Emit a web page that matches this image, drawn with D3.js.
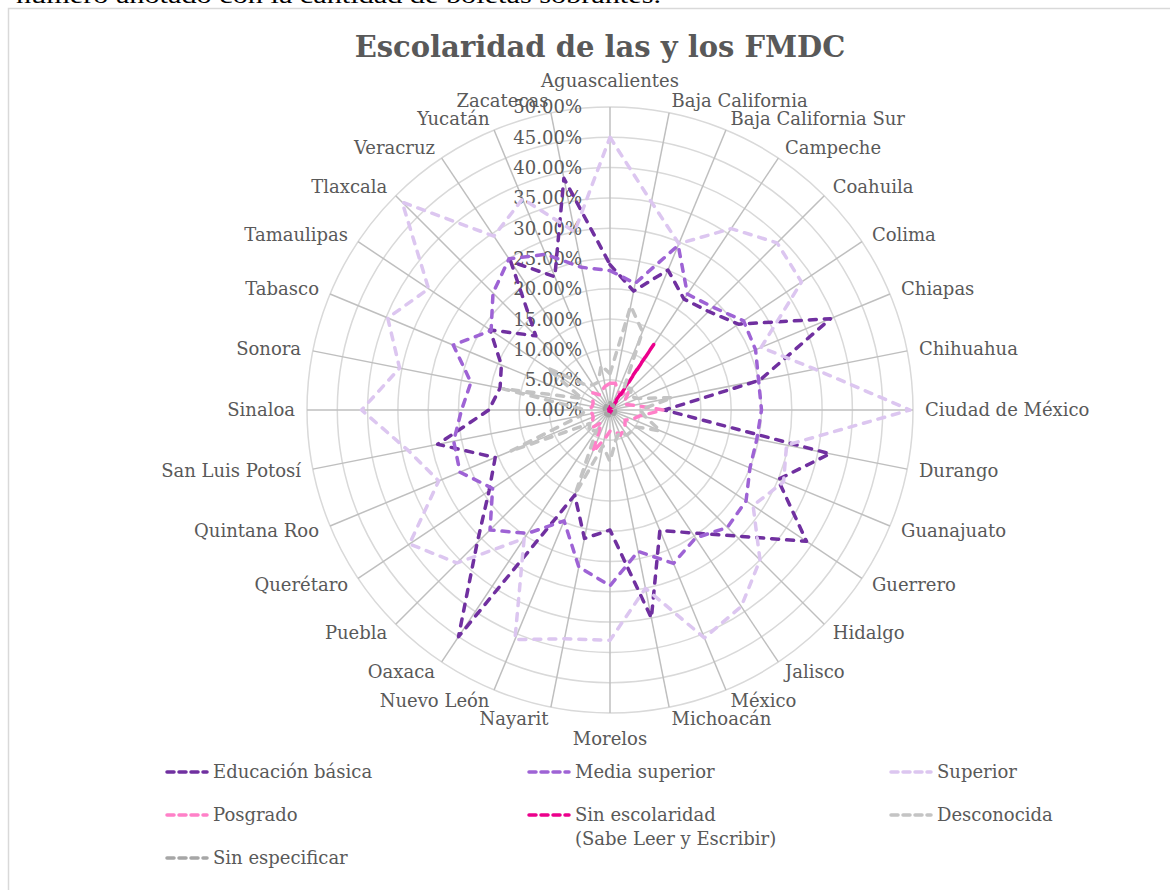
<!DOCTYPE html>
<html>
<head>
<meta charset="utf-8">
<script src="https://cdn.jsdelivr.net/npm/d3@7"></script>
<style>
  body { margin: 0; background: #fff; }
  svg { display: block; }
  text { font-family: "DejaVu Serif", Georgia, serif; fill: #595959; }
</style>
</head>
<body>
<div id="chart"></div>
<script>
// estados (ejes del radar)
const estados = ["Aguascalientes", "Baja California", "Baja California Sur", "Campeche", "Coahuila",
    "Colima", "Chiapas", "Chihuahua", "Ciudad de México", "Durango", "Guanajuato", "Guerrero",
    "Hidalgo", "Jalisco", "México", "Michoacán", "Morelos", "Nayarit", "Nuevo León", "Oaxaca",
    "Puebla", "Querétaro", "Quintana Roo", "San Luis Potosí", "Sinaloa", "Sonora", "Tabasco",
    "Tamaulipas", "Tlaxcala", "Veracruz", "Yucatán", "Zacatecas"];

// porcentajes por estado, mismo orden
const educacionBasica = [24, 20, 25, 22, 23, 25.5, 39.4, 25.2, 9, 37, 30, 39, 29.4, 24.4, 21.5, 35,
    19.8, 21.6, 15.2, 45, 31, 24, 20.5, 29, 20, 18.5, 19.4, 23.8, 17.3, 29.5, 23.8, 39];
const mediaSuperior = [23, 21.3, 29.4, 23, 24, 26.5, 26, 25, 25, 24.7, 25, 27, 27.4, 25.4, 27.4, 23.8,
    29, 26.4, 19.8, 24.5, 28, 23.3, 26.8, 26.3, 24.5, 23.4, 28, 23.6, 27.3, 30, 27.8, 24];
const superior = [45, 35, 29.7, 36, 39, 38, 27, 34.5, 49.5, 29.7, 31, 28.4, 35, 39, 40.7, 30,
    38, 38.5, 41, 25.5, 35.7, 39.8, 30.6, 34, 41, 35.4, 39.7, 36, 48.5, 34.5, 37.7, 30];
const posgrado = [4.4, 4.5, 3.5, 3, 4.5, 3, 2.5, 4, 8.8, 5, 4, 3, 3.5, 4, 4.5, 3.5,
    3.5, 5, 7.5, 2.5, 4, 3.5, 3, 3, 3.5, 3, 3, 3.5, 4, 3, 3.5, 4];
const sinEscolaridad = [0.5, 0.8, 0.3, 13, 0.3, 0.5, 0.4, 0.3, 0.3, 0.5, 0.4, 0.5, 0.4, 0.3, 0.4, 0.5,
    0.4, 0.5, 0.3, 0.6, 0.4, 0.3, 0.5, 0.4, 0.3, 0.4, 0.5, 0.3, 0.4, 0.5, 0.4, 0.5];
const desconocida = [6, 17.5, 14, 4, 5, 4, 5, 10.5, 5, 6, 9, 5, 5, 5, 4, 5,
    8.5, 6, 15, 4, 5, 4, 17.8, 5, 4, 18, 5, 12.5, 6, 5, 5, 7.5];
const sinEspecificar = [1.2, 1, 0.8, 1, 0.8, 1, 0.8, 1, 1.2, 0.8, 1, 0.8, 1, 0.8, 1, 0.8,
    1.2, 0.8, 1, 0.8, 1, 0.8, 1, 0.8, 1.2, 0.8, 1, 0.8, 1, 0.8, 1, 0.8];

const nombresSeries = ["Educación básica", "Media superior", "Superior", "Posgrado",
    "Sin escolaridad\n(Sabe Leer y Escribir)", "Desconocida", "Sin especificar"];
const colores = ["#7030a0", "#9e63d5", "#dcc6f0", "#ff80c8", "#ec008c", "#c4c4c4", "#a6a6a6"];
const ticks = [0, 5, 10, 15, 20, 25, 30, 35, 40, 45, 50];

const series = [educacionBasica, mediaSuperior, superior, posgrado, sinEscolaridad, desconocida, sinEspecificar];

const cx = 610, cy = 410, R = 303;

let svg = d3.select("#chart")
    .append("svg")
    .attr("width", 1170)
    .attr("height", 890);

// texto del documento, cortado arriba
svg.append("text")
    .text("número anotado con la cantidad de boletas sobrantes.")
    .attr("x", 16)
    .attr("y", 3)
    .attr("textLength", 645)
    .attr("lengthAdjust", "spacingAndGlyphs")
    .style("font-family", "Liberation Serif")
    .style("font-size", "24px")
    .style("fill", "#000");

// borde del área del gráfico
svg.append("rect")
    .attr("x", 8.5)
    .attr("y", 8.5)
    .attr("width", 1200)
    .attr("height", 1000)
    .attr("fill", "none")
    .attr("stroke", "#d9d9d9")
    .attr("stroke-width", 1.5);

//Title
svg.append("text")
    .text("Escolaridad de las y los FMDC")
    .attr("x", 600)
    .attr("y", 57)
    .attr("text-anchor", "middle")
    .style("font-size", "29px")
    .style("font-weight", "bold");

let r = d3.scaleLinear().domain([0, 50]).range([0, R]);
let ang = d3.scaleLinear().domain([0, estados.length]).range([0, 2 * Math.PI]);

let g = svg.append("g").attr("transform", `translate(${cx},${cy})`);

// anillos
g.selectAll("circle.ring")
    .data(ticks.slice(1))
    .enter()
    .append("circle")
    .attr("class", "ring")
    .attr("r", d => r(d))
    .attr("fill", "none")
    .attr("stroke", "#d9d9d9")
    .attr("stroke-width", 1.5);

// ejes
g.selectAll("line.spoke")
    .data(estados)
    .enter()
    .append("line")
    .attr("class", "spoke")
    .attr("x1", 0)
    .attr("y1", 0)
    .attr("x2", (d, i) => R * Math.sin(ang(i)))
    .attr("y2", (d, i) => -R * Math.cos(ang(i)))
    .attr("stroke", "#bfbfbf")
    .attr("stroke-width", 1.5);

// etiquetas de porcentaje
g.selectAll("text.tick")
    .data(ticks)
    .enter()
    .append("text")
    .attr("class", "tick")
    .text(d => d.toFixed(2) + "%")
    .attr("x", -28)
    .attr("y", d => -r(d))
    .attr("dy", "0.36em")
    .attr("text-anchor", "end")
    .style("font-size", "18px");

// nombres de estados
g.selectAll("text.estado")
    .data(estados)
    .enter()
    .append("text")
    .attr("class", "estado")
    .text(d => d)
    .attr("x", (d, i) => (R + 12) * Math.sin(ang(i)))
    .attr("y", (d, i) => {
        let c = Math.cos(ang(i));
        let y = -(R + 12) * c;
        if (c > 0.99) return y - 8;
        if (c < -0.99) return y + 20;
        return y + 6;
    })
    .attr("text-anchor", (d, i) => {
        let s = Math.sin(ang(i));
        if (s > 0.01) return "start";
        if (s < -0.01) return "end";
        return "middle";
    })
    .style("font-size", "18px");

// series
let radar = d3.lineRadial()
    .angle((d, i) => ang(i))
    .radius(d => r(d))
    .curve(d3.curveLinearClosed);

g.selectAll("path.serie")
    .data(series)
    .enter()
    .append("path")
    .attr("class", "serie")
    .attr("d", d => radar(d))
    .attr("fill", "none")
    .attr("stroke", (d, i) => colores[i])
    .attr("stroke-width", 3.5)
    .attr("stroke-linecap", "round")
    .attr("stroke-linejoin", "round")
    .attr("stroke-dasharray", "7,8");

/////////////////////////////// leyenda
let colX = [213, 575, 937];
let rowY = [772, 815, 858];

let leg = svg.selectAll("g.leg")
    .data(nombresSeries)
    .enter()
    .append("g")
    .attr("class", "leg")
    .attr("transform", (d, i) => `translate(${colX[i % 3]},${rowY[Math.floor(i / 3)]})`);

leg.append("line")
    .attr("x1", -46)
    .attr("x2", -6)
    .attr("y1", 0)
    .attr("y2", 0)
    .attr("stroke", (d, i) => colores[i])
    .attr("stroke-width", 3.5)
    .attr("stroke-linecap", "round")
    .attr("stroke-dasharray", "7,5");

leg.append("text")
    .attr("y", 0)
    .style("font-size", "18px")
    .selectAll("tspan")
    .data(d => d.split("\n"))
    .enter()
    .append("tspan")
    .attr("x", 0)
    .attr("dy", (d, i) => i === 0 ? "0.36em" : "1.28em")
    .text(d => d);
</script>
</body>
</html>
